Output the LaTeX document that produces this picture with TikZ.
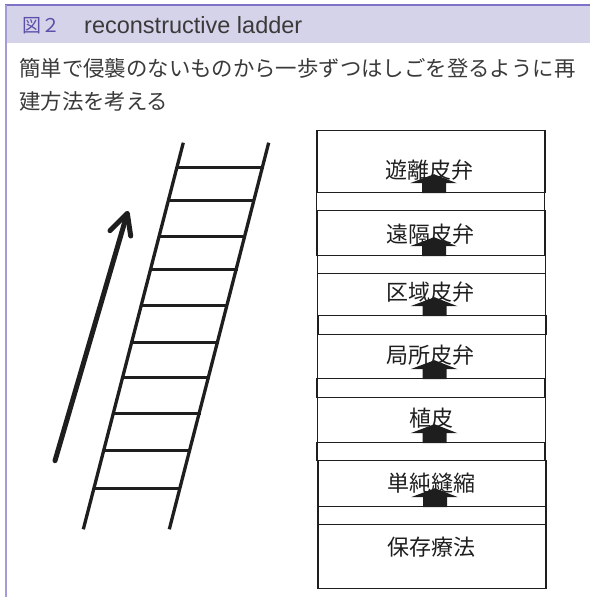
\documentclass[tikz,border=0pt]{standalone}
\usepackage{fontspec}
\setmainfont{Noto Sans CJK JP}
\newfontfamily\latinsans{Liberation Sans}
\usetikzlibrary{calc}
\definecolor{band}{HTML}{D5D3E9}
\definecolor{topline}{HTML}{7D72C8}
\definecolor{leftline}{HTML}{A29CD8}
\definecolor{figpurple}{HTML}{5B50A8}
\definecolor{txtgray}{HTML}{3A3A3A}
\definecolor{ink}{HTML}{1E1E1E}
\begin{document}
\begin{tikzpicture}[x=1pt,y=-1pt,
  stepbox/.style={draw=ink, line width=1.2pt, rectangle, inner sep=0pt, minimum width=228pt, anchor=north},
  boxlabel/.style={font=\fontsize{22}{22}\selectfont, text=ink, inner sep=0pt},
  blockarrow/.style={fill=ink, draw=none},
  rail/.style={draw=ink, line width=3.3pt},
  rung/.style={draw=ink, line width=3pt}
]
\useasboundingbox (0,0) rectangle (590,597);
% header
\fill[band] (5,5) rectangle (590,43);
\draw[topline, line width=2pt] (5,5) -- (590,5);
\draw[leftline, line width=2pt] (5.5,5) -- (5.5,597);
\node[anchor=west, inner sep=0pt, text=figpurple, font=\fontsize{19}{19}\selectfont] (fig) at (22,25.5) {図２};
\node[anchor=west, inner sep=0pt, text=txtgray, font=\latinsans\fontsize{23.5}{23.5}\selectfont] (title) at (84,25) {reconstructive ladder};
% body text
\node[anchor=north west, inner sep=0pt, align=left, text=txtgray, font=\fontsize{21.4}{33}\selectfont] (body) at (19,58) {簡単で侵襲のないものから一歩ずつはしごを登るように再\\建方法を考える};
% stacked boxes
\node[stepbox, minimum height=62pt] (b7) at (431,130) {};
\node[stepbox, minimum height=18pt] (s6) at (430.5,192) {};
\node[stepbox, minimum height=45pt] (b6) at (431,210) {};
\node[stepbox, minimum height=18pt] (s5) at (431.5,255) {};
\node[stepbox, minimum height=42pt] (b5) at (431.5,273) {};
\node[stepbox, minimum height=19pt] (s4) at (432,315) {};
\node[stepbox, minimum height=44pt] (b4) at (431.5,334) {};
\node[stepbox, minimum height=19pt] (s3) at (431,378) {};
\node[stepbox, minimum height=45pt] (b3) at (431.5,397) {};
\node[stepbox, minimum height=18pt] (s2) at (431,442) {};
\node[stepbox, minimum height=46pt] (b2) at (432,460) {};
\node[stepbox, minimum height=18pt] (s1) at (432,506) {};
\node[stepbox, minimum height=64pt] (b1) at (432,524) {};
% labels
\node[boxlabel] (l7) at (429,170) {遊離皮弁};
\node[boxlabel] (l6) at (430,234) {遠隔皮弁};
\node[boxlabel] (l5) at (430,292) {区域皮弁};
\node[boxlabel] (l4) at (430,355) {局所皮弁};
\node[boxlabel] (l3) at (431,418) {植皮};
\node[boxlabel] (l2) at (431,483) {単純縫縮};
\node[boxlabel] (l1) at (431,547) {保存療法};
% block arrows
\foreach \b in {b2,b3,b4,b5,b6,b7}{
  \fill[blockarrow] ($(\b.south)+(3,-19)$) -- ($(\b.south)+(26,-10)$) -- ($(\b.south)+(15,-10)$)
    -- ($(\b.south)+(15,0)$) -- ($(\b.south)+(-9,0)$) -- ($(\b.south)+(-9,-10)$)
    -- ($(\b.south)+(-21,-10)$) -- cycle;
}
% ladder
\coordinate (L0) at (83.3,529.3);
\coordinate (L1) at (183.3,142.7);
\coordinate (R0) at (169.3,529.3);
\coordinate (R1) at (268.7,142.7);
\draw[rail] (L0) -- (L1);
\draw[rail] (R0) -- (R1);
\foreach \y in {167.7,200.7,236,269,305.3,342.7,377.3,413.3,450,488}{
  \pgfmathsetmacro\xl{83.3+(529.3-\y)*0.25867}
  \pgfmathsetmacro\xr{169.3+(529.3-\y)*0.25711}
  \draw[rung] (\xl,\y) -- (\xr+1.5,\y);
}
% climbing arrow
\coordinate (A0) at (55,460.7);
\coordinate (A1) at (127.3,213.3);
\coordinate (AL) at (110,230.7);
\coordinate (AR) at (130.7,236);
\draw[draw=ink, line width=5pt, line cap=round] (A0) -- ($(A0)!0.985!(A1)$);
\draw[draw=ink, line width=5pt, line cap=round, line join=round] (AL) -- (A1) -- (AR);
\end{tikzpicture}
\end{document}
